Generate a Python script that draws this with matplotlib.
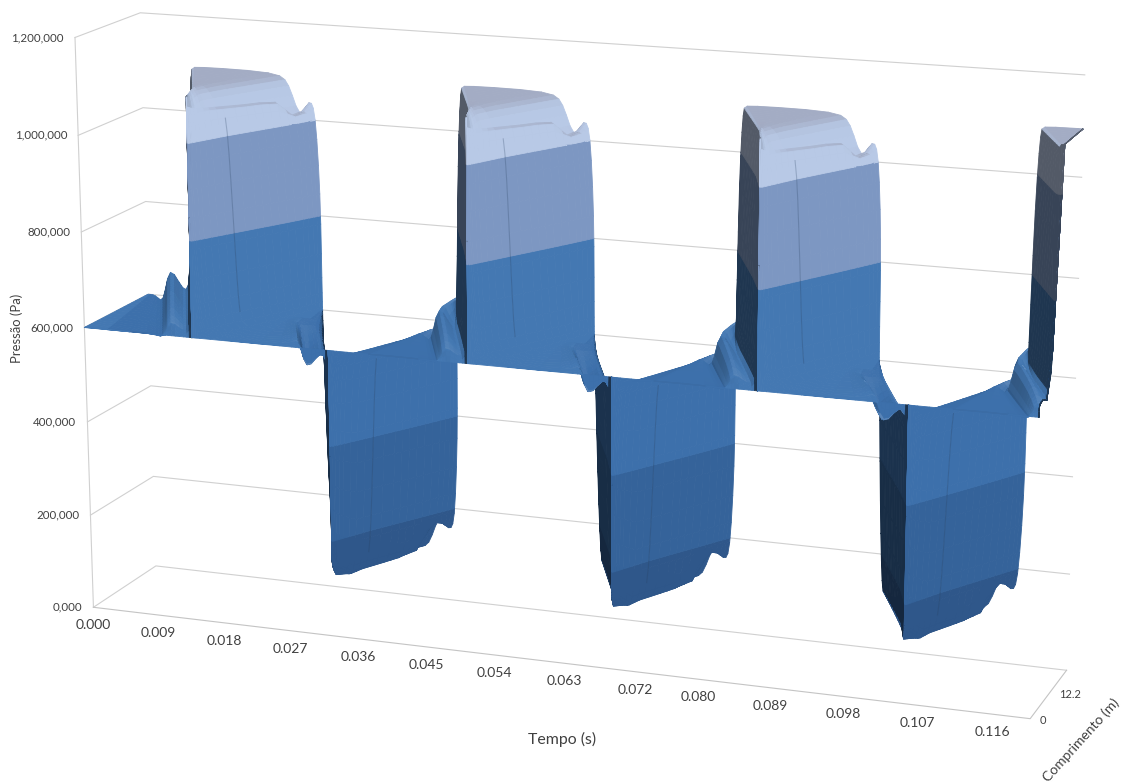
import numpy as np
import matplotlib
matplotlib.use('Agg')
import matplotlib.pyplot as plt
from matplotlib.collections import PolyCollection
from matplotlib.colors import to_rgb

plt.rcParams['font.family'] = ['Lato', 'DejaVu Sans']

# axis labels
time_labels = ['0.000', '0.009', '0.018', '0.027', '0.036', '0.045', '0.054',
               '0.063', '0.072', '0.080', '0.089', '0.098', '0.107', '0.116']
pressure_ticks = [0, 200000, 400000, 600000, 800000, 1000000, 1200000]
pressure_labels = ['0,000', '200,000', '400,000', '600,000', '800,000', '1,000,000', '1,200,000']

# pipe geometry and timing (ms, m, Pa)
T_MAX = 120.5
L_MAX = 24.4
P_MAX = 1200000
P_STATIC = 600000
delay_in = 8.6
delay_out = 9.5
apex_ms = [14.6, 32.7, 50.8, 69.0, 87.0, 105.2, 123.3]   # pulse tip at the reservoir end
length_rows = [0, 0.3, 1, 2.5, 5, 8, 12.2, 15, 18, 21, 23, 24.4]
ripple_gain = [0, 0.4, 0.5, 0.65, 0.8, 0.9, 1, 1, 1, 1, 1, 1]
low_ripple_gain = [0, 0.6, 0.8, 0.9, 0.9, 0.7, 0.35, 0.1, 0, 0, 0, 0]
low_depth = [0, 0.9, 0.93, 0.96, 1, 1, 1, 1, 1, 1, 1, 1]
high_rim_pa = [1095e3, 1095e3, 1090e3, 1085e3, 1080e3, 1075e3, 1070e3, 1068e3, 1062e3, 1012e3, 1020e3, 1045e3]
low_rim_pa = [120e3, 120e3, 118e3, 115e3, 115e3, 115e3, 115e3, 115e3, 118e3, 185e3, 170e3, 150e3]
low_dent_pa = [120e3, 120e3, 118e3, 115e3, 115e3, 115e3, 118e3, 122e3, 135e3, 185e3, 185e3, 185e3]

# pressure around the wave fronts, offsets in ms from each front
front_in_offset = [-5.0, -3.9, -2.9, -1.0, 0.0, 0.4, 0.8, 1.2]
front_out_offset = [-5.5, -4.0, -2.6, -1.2, -0.5, 0.0, 0.5, 1.0]
high_in_pa = [600e3, 582e3, 670e3, 612e3, 625e3, 950e3, 1090e3, 1095e3]
high_out_pa = [1095e3, 1075e3, 1000e3, 1055e3, 1020e3, 850e3, 650e3, 600e3]
low_in_pa = [600e3, 625e3, 535e3, 592e3, 575e3, 300e3, 125e3, 110e3]
low_out_pa = [110e3, 112e3, 185e3, 135e3, 170e3, 350e3, 550e3, 600e3]

# colour bands of the surface
band_edges = [0, 200000, 400000, 600000, 800000, 1000000, 1200000]
band_colors = ['#2f578a', '#35639a', '#3d70ab', '#4478b2', '#7d97c2', '#b8c9e6']
top_color = '#a3acc4'

# box corners on the canvas: (time, length, pressure) as fractions -> pixels
box_uvw = [(0, 0, 0), (0, 0, 0.5), (0, 0, 1), (0, 1, 0), (0, 1, 1),
           (1, 0, 0), (1, 1, 0), (1, 1, 0.5), (1, 1, 1)]
box_px = [(93, 607), (85, 328), (75, 37), (156, 566), (140, 13),
          (1030, 719), (1067, 670), (1075, 378), (1085, 75)]

RIPPLE, FRONT_IN, WALL_OUT, PLATEAU = 0, 1, 2, 3


def fit_camera(uvw, px):
    rows = []
    for (u, v, w), (x, y) in zip(uvw, px):
        rows.append([u, v, w, 1, 0, 0, 0, 0, -x * u, -x * v, -x * w, -x])
        rows.append([0, 0, 0, 0, u, v, w, 1, -y * u, -y * v, -y * w, -y])
    return np.linalg.svd(np.array(rows, float))[2][-1].reshape(3, 4)


CAM = fit_camera(box_uvw, box_px)
cam_h = np.linalg.svd(CAM)[2][-1]
cam_pos = cam_h[:3] / cam_h[3]


def project(t, L, p):
    t, L, p = np.broadcast_arrays(np.asarray(t, float), np.asarray(L, float), np.asarray(p, float))
    q = np.stack([t / T_MAX, L / L_MAX, p / P_MAX, np.ones(t.shape)], axis=-1) @ CAM.T
    return q[..., 0] / q[..., 2], q[..., 1] / q[..., 2]


def row_knots(j):
    L = length_rows[j]
    s = L / L_MAX
    fade = 1.0 if L > 0 else 0.0
    tt, pp, kind, pulse = [0.0], [float(P_STATIC)], [PLATEAU], [-1]
    for k, a in enumerate(apex_ms):
        line_in = a - delay_in * s
        line_out = a + delay_out * s
        inner = min(1.0, (line_out - line_in) / 6.2)
        before = 1.0
        if k > 0:
            before = np.clip((line_in - (apex_ms[k - 1] + delay_out * s)) / 6.0, 0.05, 1.0)
        after = 1.0
        if k < len(apex_ms) - 1:
            after = np.clip(((apex_ms[k + 1] - delay_in * s) - line_out) / 6.0, 0.05, 1.0)
        if k % 2 == 0:
            in_pa, out_pa, depth, rim, dent = high_in_pa, high_out_pa, 1.0, high_rim_pa[j], high_out_pa[2]
            wiggle = ripple_gain[j]
        else:
            in_pa, out_pa, depth, rim, dent = low_in_pa, low_out_pa, low_depth[j], low_rim_pa[j], low_dent_pa[j]
            wiggle = low_ripple_gain[j]
        for i, off in enumerate(front_in_offset):
            tt.append(line_in + off * (before if off < 0 else inner))
            if i < 4:
                pp.append(P_STATIC + (in_pa[i] - P_STATIC) * wiggle * fade)
            else:
                pp.append(P_STATIC + (in_pa[i] - P_STATIC) * depth * fade)
            kind.append(RIPPLE if i < 4 else FRONT_IN)
            pulse.append(k)
        for i, off in enumerate(front_out_offset):
            tt.append(line_out + off * (inner if off < 0 else after))
            level = rim if i == 3 else dent if i == 2 else out_pa[i]
            pp.append(P_STATIC + (level - P_STATIC) * depth * fade)
            kind.append(WALL_OUT if i >= 4 else PLATEAU)
            pulse.append(k)
    return np.maximum.accumulate(tt), np.array(pp), np.array(kind), np.array(pulse)


def soften(a):
    out = a.copy()
    for _ in range(2):
        out[1:-1] = 0.25 * out[:-2] + 0.5 * out[1:-1] + 0.25 * out[2:]
    return out


# surface mesh, one row per pipe position
time_rows, press_rows = [], []
for j in range(len(length_rows)):
    tt, pp, kind, pulse = row_knots(j)
    idx = np.arange(len(tt))
    fine = np.linspace(0, len(tt) - 1, 3 * (len(tt) - 1) + 1)
    kind_fine = kind[np.round(fine).astype(int)]
    pulse_fine = pulse[np.round(fine).astype(int)]
    tt = soften(np.interp(fine, idx, tt))
    pp = soften(np.interp(fine, idx, pp))
    end_p = np.interp(T_MAX, tt, pp)
    pp[tt > T_MAX] = end_p
    tt[tt > T_MAX] = T_MAX
    time_rows.append(tt)
    press_rows.append(pp)

T_grid, P_grid, L_grid = [], [], []
for j in range(len(length_rows) - 1):
    T_grid += [time_rows[j], 0.5 * (time_rows[j] + time_rows[j + 1])]
    P_grid += [press_rows[j], 0.5 * (press_rows[j] + press_rows[j + 1])]
    L_grid += [length_rows[j], 0.5 * (length_rows[j] + length_rows[j + 1])]
T_grid.append(time_rows[-1])
P_grid.append(press_rows[-1])
L_grid.append(length_rows[-1])
T_grid = np.array(T_grid)
P_grid = np.array(P_grid)
L_grid = np.array(L_grid)


def clip_band(poly, lo, hi):
    # cut a polygon (t, L, p) down to the part between two pressure levels
    for level, sign in ((lo, 1), (hi, -1)):
        out = []
        for a, b in zip(poly, poly[1:] + poly[:1]):
            da, db = sign * (a[2] - level), sign * (b[2] - level)
            if da >= 0:
                out.append(a)
            if da * db < 0:
                f = da / (da - db)
                out.append(tuple(a[i] + f * (b[i] - a[i]) for i in range(3)))
        poly = out
        if not poly:
            return []
    return poly


def screen_area(quad):
    arr = np.array(quad)
    x, y = project(arr[:, 0], arr[:, 1], arr[:, 2])
    return 0.5 * np.sum(x * np.roll(y, -1) - np.roll(x, -1) * y)


TOP_SIGN = np.sign(screen_area([(10, 5, 6e5), (20, 5, 6e5), (20, 15, 6e5), (10, 15, 6e5)]))


def lighting(quad, part, ripple):
    # returns brightness factor and how much the facet looks upwards
    a = np.array(quad[2]) - np.array(quad[0])
    b = np.array(quad[3]) - np.array(quad[1])
    scale = np.array([1 / delay_in, 1 / L_MAX, 1 / 500000.0])
    n = np.cross(a * scale, b * scale)
    n = n / (np.linalg.norm(n) + 1e-12)
    if n[2] < 0:
        n = -n
    d = 0.707 * n[0] - 0.707 * n[1]
    area = screen_area(quad)
    if np.sign(area) == TOP_SIGN or abs(area) < 1e-6:
        v = n[2] + d
        if n[2] < 0.3 and d > 0:
            v = (d - 0.2) / 0.5
    else:
        v = (abs(d) + n[2] - 0.2) / 0.5
    if part == FRONT_IN and n[2] < 0.5:
        v = 0.0
    if part == PLATEAU:
        v = max(v, 0.8)
    v = np.clip(v, 0, 1.3 if ripple else 1.0)
    return 0.45 + 0.55 * v, n[2]


band_rgb = [np.array(to_rgb(c)) for c in band_colors]
top_rgb = np.array(to_rgb(top_color))
faces = []
nr, nc = T_grid.shape
for j in range(nr - 1):
    for i in range(nc - 1):
        quad = [(T_grid[j, i], L_grid[j], P_grid[j, i]),
                (T_grid[j, i + 1], L_grid[j], P_grid[j, i + 1]),
                (T_grid[j + 1, i + 1], L_grid[j + 1], P_grid[j + 1, i + 1]),
                (T_grid[j + 1, i], L_grid[j + 1], P_grid[j + 1, i])]
        ps = [q[2] for q in quad]
        ts = [q[0] for q in quad]
        if max(ts) - min(ts) < 1e-9 and max(ps) - min(ps) < 1e-6:
            continue
        cu = np.mean(ts) / T_MAX
        cv = np.mean([q[1] for q in quad]) / L_MAX
        key = (cu - cam_pos[0]) ** 2 + (cv - cam_pos[1]) ** 2
        f, up = lighting(quad, kind_fine[i], kind_fine[i] == RIPPLE and L_grid[j] > 0.3)
        for b in range(len(band_rgb)):
            lo, hi = band_edges[b], band_edges[b + 1]
            if max(ps) < lo or min(ps) >= hi:
                continue
            poly = quad if lo <= min(ps) and max(ps) <= hi else clip_band(quad, lo, hi)
            if len(poly) < 3:
                continue
            base = band_rgb[b]
            if b == len(band_rgb) - 1:
                base = base + (top_rgb - base) * up ** 10
            col = base * f if f <= 1 else base + (1 - base) * (f - 1) * 0.9
            faces.append((key, poly, np.clip(col, 0, 1)))

faces.sort(key=lambda r: -r[0])
verts, colors = [], []
for key, poly, col in faces:
    arr = np.array(poly)
    x, y = project(arr[:, 0], arr[:, 1], arr[:, 2])
    verts.append(np.column_stack([x, y]))
    colors.append(col)

fig = plt.figure(figsize=(11.25, 7.83), dpi=100)
ax = fig.add_axes([0, 0, 1, 1])
ax.set_xlim(0, 1125)
ax.set_ylim(783, 0)
ax.axis('off')

# walls and floor
grid_color = '#d0d0d0'
for p in pressure_ticks:
    x, y = project([0, 0, T_MAX], [0, L_MAX, L_MAX], [p, p, p])
    ax.plot(x, y, color=grid_color, lw=0.8, zorder=1)
x, y = project([0, 0], [0, 0], [0, P_MAX])
ax.plot(x, y, color=grid_color, lw=0.8, zorder=1)
x, y = project([0, T_MAX, T_MAX], [0, 0, L_MAX], [0, 0, 0])
ax.plot(x, y, color='#c4c4c4', lw=0.8, zorder=1)

ax.add_collection(PolyCollection(verts, facecolors=colors, edgecolors=colors, linewidths=0.6, zorder=3))

# fold line across the walls at one pipe position
fold_t, fold_p = time_rows[5], press_rows[5]
for k in range(len(apex_ms)):
    mask = (pulse_fine == k) & (kind_fine == WALL_OUT) & (fold_t < T_MAX)
    if k % 2 == 0:
        mask &= fold_p > P_STATIC + 20000
    else:
        mask &= fold_p < P_STATIC - 30000
    if mask.sum() > 1:
        x, y = project(fold_t[mask], length_rows[5], fold_p[mask])
        ax.plot(x, y, color='#27405f', alpha=0.25, lw=0.8, zorder=4)

# tick labels
text_color = '#404040'
for p, lab in zip(pressure_ticks, pressure_labels):
    x, y = project(0, 0, p)
    ax.text(x - 11, y, lab, ha='right', va='center', fontsize=8.3, color=text_color)
for lab in time_labels:
    x, y = project(float(lab) * 1000, 0, 0)
    ax.text(x, y + 18, lab, ha='center', va='center', fontsize=10, color=text_color)
ax.text(1043, 720, '0', ha='center', va='center', fontsize=8, color=text_color)
ax.text(1070, 695, '12.2', ha='center', va='center', fontsize=8, color=text_color)

ax.text(562, 739, 'Tempo (s)', ha='center', va='center', fontsize=11.4, color=text_color)
ax.text(17, 328, 'Pressão (Pa)', ha='center', va='center', rotation=90, fontsize=9.4, color=text_color)
ax.text(1081, 740, 'Comprimento (m)', ha='center', va='center', rotation=48, fontsize=10, color=text_color)

fig.savefig('out.png', dpi=100)
